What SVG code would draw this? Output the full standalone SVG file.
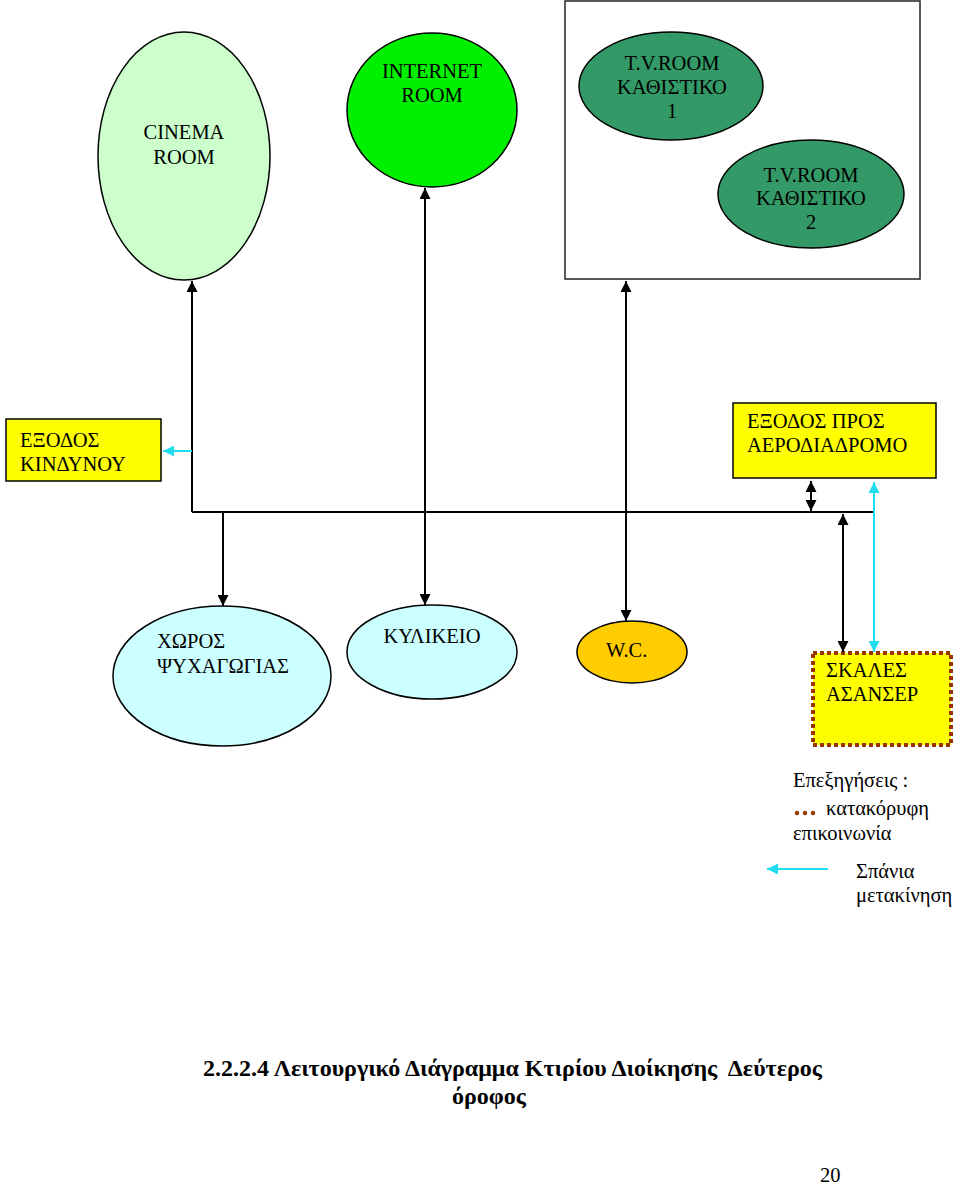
<svg xmlns="http://www.w3.org/2000/svg" width="960" height="1184" viewBox="0 0 960 1184">
<style>
text{font-family:"Liberation Serif","Times New Roman",serif;font-size:20.5px;fill:#000}
.n{stroke:#000;stroke-width:1.5}
.c{fill:none;stroke:#000;stroke-width:2}
.cy{fill:none;stroke:#22DDEE;stroke-width:2}
.lg{font-size:20.5px}
.cap{font-size:24px;font-weight:bold}
</style>
<defs>
<marker id="ab" viewBox="0 0 10 10" refX="10" refY="5" markerWidth="11" markerHeight="11" markerUnits="userSpaceOnUse" orient="auto-start-reverse"><path d="M0,0 L10,5 L0,10z" fill="#000"/></marker>
<marker id="ac" viewBox="0 0 10 10" refX="10" refY="5" markerWidth="11" markerHeight="11" markerUnits="userSpaceOnUse" orient="auto-start-reverse"><path d="M0,0 L10,5 L0,10z" fill="#22DDEE"/></marker>
</defs>
<rect width="960" height="1184" fill="#fff"/>

<g id="cinema">
<ellipse class="n" cx="184" cy="156" rx="86" ry="124" fill="#CCFFCC"/>
<text x="184" y="139" text-anchor="middle">CINEMA</text>
<text x="184" y="164" text-anchor="middle">ROOM</text>
</g>
<g id="internet">
<ellipse class="n" cx="432" cy="110" rx="85" ry="77" fill="#00F000"/>
<text x="432" y="78" text-anchor="middle">INTERNET</text>
<text x="432" y="102" text-anchor="middle">ROOM</text>
</g>
<g id="tvarea">
<rect x="565" y="1" width="355" height="278" fill="#fff" stroke="#222" stroke-width="1.5"/>
</g>
<g id="tv1">
<ellipse class="n" cx="671" cy="86" rx="92" ry="54" fill="#339966"/>
<text x="672" y="70" text-anchor="middle">T.V.ROOM</text>
<text x="672" y="94" text-anchor="middle">ΚΑΘΙΣΤΙΚΟ</text>
<text x="672" y="118" text-anchor="middle">1</text>
</g>
<g id="tv2">
<ellipse class="n" cx="811" cy="194" rx="93" ry="54" fill="#339966"/>
<text x="811" y="182" text-anchor="middle">T.V.ROOM</text>
<text x="811" y="205" text-anchor="middle">ΚΑΘΙΣΤΙΚΟ</text>
<text x="811" y="229" text-anchor="middle">2</text>
</g>
<g id="exodos-kindynou">
<rect class="n" x="6" y="419" width="155" height="62" fill="#FFFF00"/>
<text x="20" y="447">ΕΞΟΔΟΣ</text>
<text x="20" y="471">ΚΙΝΔΥΝΟΥ</text>
</g>
<g id="exodos-aerodiadromo">
<rect class="n" x="733" y="403" width="203" height="75" fill="#FFFF00"/>
<text x="747" y="428">ΕΞΟΔΟΣ ΠΡΟΣ</text>
<text x="747" y="452">ΑΕΡΟΔΙΑΔΡΟΜΟ</text>
</g>
<g id="xoros">
<ellipse class="n" cx="222" cy="676" rx="109" ry="70" fill="#CCFFFF"/>
<text x="157" y="648">ΧΩΡΟΣ</text>
<text x="157" y="673">ΨΥΧΑΓΩΓΙΑΣ</text>
</g>
<g id="kylikeio">
<ellipse class="n" cx="432" cy="652" rx="85" ry="47" fill="#CCFFFF"/>
<text x="432" y="643" text-anchor="middle">ΚΥΛΙΚΕΙΟ</text>
</g>
<g id="wc">
<ellipse class="n" cx="632" cy="652" rx="55" ry="31" fill="#FFCC00"/>
<text x="606" y="657">W.C.</text>
</g>
<g id="skales">
<rect x="813" y="653" width="138" height="92" fill="#FFFF00" stroke="#993300" stroke-width="4" stroke-dasharray="4 3"/>
<text x="826" y="677">ΣΚΑΛΕΣ</text>
<text x="826" y="701">ΑΣΑΝΣΕΡ</text>
</g>

<g id="connectors">
<path class="c" d="M192,512 H873"/>
<path class="c" d="M192,512 V281" marker-end="url(#ab)"/>
<path class="c" d="M223,512 V606" marker-end="url(#ab)"/>
<path class="c" d="M425,605 V188" marker-start="url(#ab)" marker-end="url(#ab)"/>
<path class="c" d="M626,621 V281" marker-start="url(#ab)" marker-end="url(#ab)"/>
<path class="c" d="M811,481 V511" marker-start="url(#ab)" marker-end="url(#ab)"/>
<path class="c" d="M843,652 V514" marker-start="url(#ab)" marker-end="url(#ab)"/>
<path class="cy" d="M874,652 V482" marker-start="url(#ac)" marker-end="url(#ac)"/>
<path class="cy" d="M192,451 H163" marker-end="url(#ac)"/>
</g>

<g id="legend">
<text class="lg" x="793" y="787">Επεξηγήσεις :</text>
<circle cx="797" cy="813" r="2.2" fill="#993300"/>
<circle cx="805" cy="813" r="2.2" fill="#993300"/>
<circle cx="813" cy="813" r="2.2" fill="#993300"/>
<text class="lg" x="826" y="815">κατακόρυφη</text>
<text class="lg" x="793" y="840">επικοινωνία</text>
<path class="cy" d="M828,869 H767" marker-end="url(#ac)"/>
<text class="lg" x="856" y="878">Σπάνια</text>
<text class="lg" x="856" y="902">μετακίνηση</text>
</g>

<g id="caption">
<text class="cap" x="203" y="1076" xml:space="preserve">2.2.2.4 Λειτουργικό Διάγραμμα Κτιρίου Διοίκησης  Δεύτερος</text>
<text class="cap" x="452" y="1104">όροφος</text>
</g>
<text x="820" y="1182" font-size="21">20</text>
</svg>
